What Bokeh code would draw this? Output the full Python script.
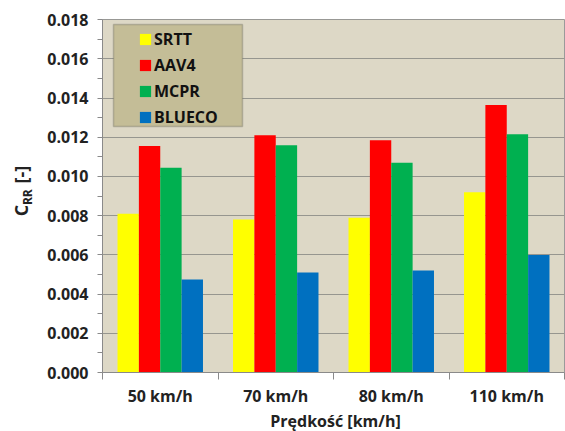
import numpy as np
from bokeh.plotting import figure
from bokeh.layouts import row, column
from bokeh.models import (ColumnDataSource, Range1d, FixedTicker,
                          PrintfTickFormatter, Legend, LegendItem, BoxAnnotation)
from bokeh.core.properties import value
from bokeh.transform import dodge
from bokeh.embed import file_html
from bokeh.resources import INLINE

# ---- data ----
speeds = ["50 km/h", "70 km/h", "80 km/h", "110 km/h"]
tyres = ["SRTT", "AAV4", "MCPR", "BLUECO"]
srtt = [0.0081, 0.0078, 0.0079, 0.0092]
aav4 = [0.01155, 0.0121, 0.01185, 0.01365]
mcpr = [0.01045, 0.0116, 0.0107, 0.01215]
blueco = [0.00475, 0.0051, 0.0052, 0.0060]
colors = ["#FFFF00", "#FF0000", "#00B050", "#0070C0"]
y_ticks = [0.000, 0.002, 0.004, 0.006, 0.008, 0.010, 0.012, 0.014, 0.016, 0.018]
y_minor = [0.001, 0.003, 0.005, 0.007, 0.009, 0.011, 0.013, 0.015, 0.017]
x_title = "Prędkość [km/h]"
y_title = ["C", "RR", "[-]"]

xc = list(np.arange(len(speeds)) + 0.5)
src = ColumnDataSource(dict(x=xc, SRTT=srtt, AAV4=aav4, MCPR=mcpr, BLUECO=blueco))

FONT = "Open Sans"
W, H = 565, 431
LW = 36   # width of the y-title strip
HB = 22   # height of the x-title strip
HM = H - HB

# ---- y-axis title strip ----
lab = figure(width=LW, height=HM, output_backend="svg", toolbar_location=None,
             x_range=Range1d(0, LW), y_range=Range1d(0, HM), min_border=0)
lab.axis.visible = False
lab.grid.visible = False
lab.outline_line_color = None
lab.background_fill_color = "white"
lab.border_fill_color = "white"
tkw = dict(angle=np.pi / 2, text_font=value(FONT), text_font_style="bold",
           text_color="#222222", text_align="left", text_baseline="middle")
lab.text(x=[20], y=[HM - 228], text=[y_title[0]], text_font_size="18px", **tkw)
lab.text(x=[27], y=[HM - 215], text=[y_title[1]], text_font_size="12px", **tkw)
lab.text(x=[20.5], y=[HM - 190], text=[y_title[2]], text_font_size="18px", **tkw)

# ---- x-axis title strip ----
bot = figure(width=W, height=HB, output_backend="svg", toolbar_location=None,
             x_range=Range1d(0, W), y_range=Range1d(0, HB), min_border=0)
bot.axis.visible = False
bot.grid.visible = False
bot.outline_line_color = None
bot.background_fill_color = "white"
bot.border_fill_color = "white"
bot.text(x=[335], y=[HB / 2], text=[x_title], text_font=value(FONT),
         text_font_style="bold", text_font_size="16px", text_color="#222222",
         text_align="center", text_baseline="middle")

# ---- main chart ----
p = figure(width=W - LW, height=HM, output_backend="svg", toolbar_location=None,
           x_range=Range1d(0, len(speeds)), y_range=Range1d(0, 0.01801),
           min_border_left=102 - LW, min_border_right=1, min_border_top=19,
           min_border_bottom=HM - 375)
p.border_fill_color = "white"
p.background_fill_color = "#DDD8C6"
p.outline_line_color = "#9a9a9a"
p.outline_line_width = 1

bw = 0.185
offs = [-1.5 * bw, -0.5 * bw, 0.5 * bw, 1.5 * bw]
renderers = []
for name, off, col in zip(tyres, offs, colors):
    r = p.vbar(x=dodge("x", off), top=name, width=bw, bottom=0, source=src,
               fill_color=col, line_color=None)
    renderers.append(r)

# y axis
yax = p.yaxis[0]
yax.ticker = FixedTicker(ticks=y_ticks, minor_ticks=y_minor)
yax.formatter = PrintfTickFormatter(format="%.3f")
yax.major_tick_in = 0
yax.major_tick_out = 5
yax.minor_tick_in = 0
yax.minor_tick_out = 5
yax.major_tick_line_color = "#8a8a8a"
yax.minor_tick_line_color = "#8a8a8a"
yax.axis_line_color = "#8a8a8a"
yax.major_label_text_font = FONT
yax.major_label_text_font_style = "bold"
yax.major_label_text_font_size = "16px"
yax.major_label_text_color = "#222222"
yax.major_label_standoff = 9

# x axis
xax = p.xaxis[0]
xax.ticker = FixedTicker(ticks=xc, minor_ticks=list(range(len(speeds) + 1)))
xax.major_label_overrides = {float(v): s for v, s in zip(xc, speeds)}
xax.major_tick_line_color = None
xax.major_tick_out = 7
xax.major_tick_in = 0
xax.minor_tick_in = 0
xax.minor_tick_out = 7
xax.minor_tick_line_color = "#8a8a8a"
xax.axis_line_color = "#8a8a8a"
xax.major_label_text_font = FONT
xax.major_label_text_font_style = "bold"
xax.major_label_text_font_size = "16px"
xax.major_label_text_color = "#222222"
xax.major_label_standoff = 5

p.xgrid.visible = False
p.ygrid.ticker = FixedTicker(ticks=y_ticks)
p.ygrid.grid_line_color = "#96968f"
p.ygrid.grid_line_width = 1

# legend background box
box = BoxAnnotation(left=11, right=140, bottom=246, top=348,
                    left_units="screen", right_units="screen",
                    bottom_units="screen", top_units="screen",
                    fill_color="#C4BD97", fill_alpha=1.0,
                    line_color="#5a5a50", line_width=1.5)
p.add_layout(box)

legend = Legend(items=[LegendItem(label=t, renderers=[r]) for t, r in zip(tyres, renderers)],
                location=(36, 244.5), margin=0, padding=2,
                glyph_width=14, glyph_height=14, label_height=21, spacing=4,
                label_standoff=2,
                label_text_font=FONT, label_text_font_style="bold",
                label_text_font_size="16px", label_text_color="#111111",
                background_fill_alpha=0, border_line_color=None)
p.add_layout(legend)

layout = column(row(lab, p), bot)
open("out.html", "w").write(file_html(layout, INLINE))
